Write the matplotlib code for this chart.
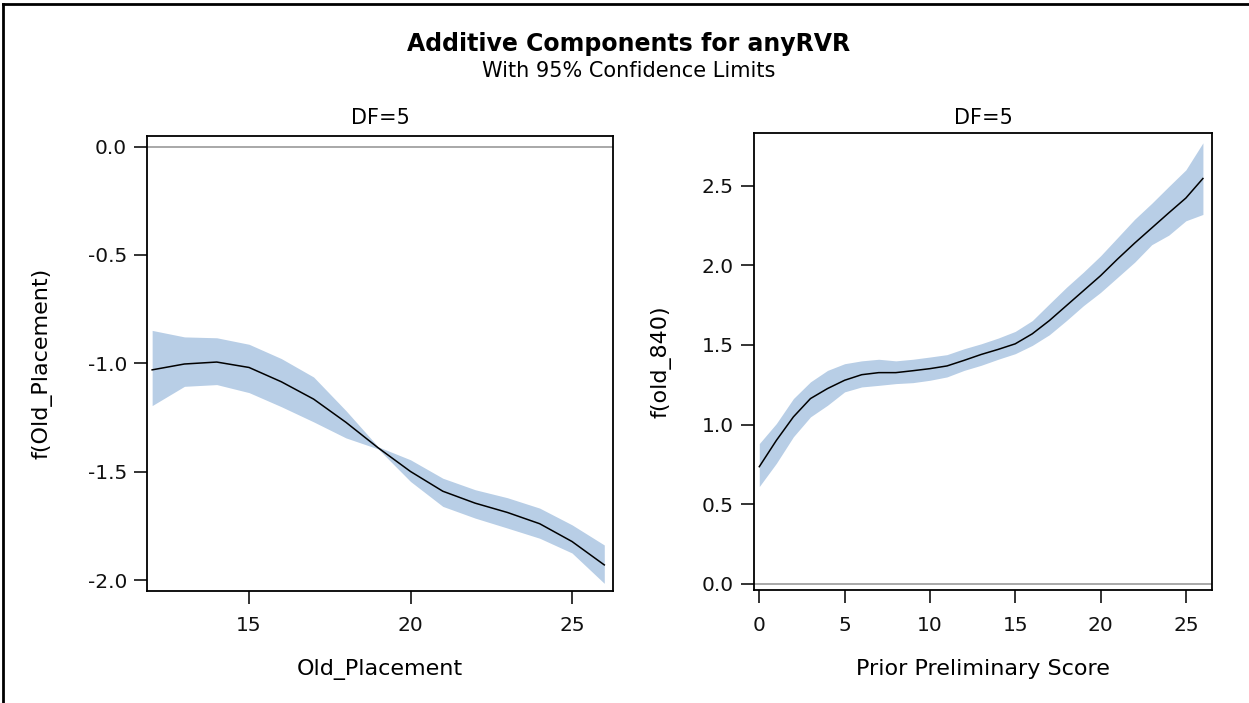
import matplotlib
matplotlib.use("Agg")
import matplotlib.pyplot as plt
from matplotlib.lines import Line2D

plt.rcParams['font.family'] = ['DejaVu Sans']

# Component 1: Old_Placement
placement_x = [12, 13, 14, 15, 16, 17, 18, 19, 20, 21, 22, 23, 24, 25, 26]
placement_fit = [-1.03, -1.003, -0.994, -1.019, -1.085, -1.165, -1.272, -1.39, -1.499,
                 -1.59, -1.645, -1.688, -1.74, -1.822, -1.93]
placement_upper = [-0.848, -0.878, -0.882, -0.912, -0.978, -1.063, -1.218, -1.385, -1.445,
                   -1.53, -1.583, -1.62, -1.668, -1.745, -1.838]
placement_lower = [-1.195, -1.106, -1.098, -1.135, -1.2, -1.27, -1.344, -1.395, -1.545,
                   -1.66, -1.714, -1.76, -1.807, -1.875, -2.015]

# Component 2: Prior Preliminary Score
score_x = list(range(0, 27))
score_fit = [0.735, 0.90, 1.048, 1.163, 1.226, 1.278, 1.313, 1.326, 1.326, 1.338, 1.351,
             1.368, 1.403, 1.44, 1.472, 1.507, 1.57, 1.653, 1.747, 1.841, 1.935, 2.04,
             2.14, 2.235, 2.33, 2.423, 2.546]
score_upper = [0.88, 1.006, 1.163, 1.268, 1.34, 1.382, 1.40, 1.41, 1.40, 1.41, 1.424,
               1.439, 1.476, 1.507, 1.543, 1.585, 1.653, 1.758, 1.862, 1.958, 2.06, 2.175,
               2.29, 2.39, 2.496, 2.60, 2.77]
score_lower = [0.61, 0.756, 0.923, 1.048, 1.121, 1.205, 1.236, 1.246, 1.257, 1.263, 1.278,
               1.299, 1.34, 1.372, 1.41, 1.445, 1.497, 1.564, 1.653, 1.747, 1.83, 1.925,
               2.02, 2.13, 2.19, 2.28, 2.32]

placement_ticks = [15, 20, 25]
placement_yticks = [0.0, -0.5, -1.0, -1.5, -2.0]
score_ticks = [0, 5, 10, 15, 20, 25]
score_yticks = [0.0, 0.5, 1.0, 1.5, 2.0, 2.5]

BAND = '#B8CEE6'
W, H = 1249, 703
fig = plt.figure(figsize=(W / 100, H / 100), dpi=100)


def px_axes(left, top, right, bottom):
    ax = fig.add_axes([left / W, 1 - bottom / H, (right - left) / W, (bottom - top) / H])
    return ax, top, bottom


def draw_panel(spec, x, fit, lo, hi, xticks, yticks, xlim, ylim, xlabel, ylabel, ylab_x):
    ax, top, bottom = spec
    height = bottom - top
    ax.fill_between(x, lo, hi, color=BAND, linewidth=0, zorder=1)
    ax.axhline(0, color='#9a9a9a', linewidth=1.2, zorder=2)
    ax.plot(x, fit, color='black', linewidth=1.1, zorder=3)
    ax.set_xlim(*xlim)
    ax.set_ylim(*ylim)
    ax.set_xticks(xticks)
    ax.set_yticks(yticks)
    ax.set_yticklabels([f"{v:.1f}" for v in yticks])
    ax.tick_params(direction='out', length=9.5, width=1.2, labelsize=14.5, colors='#111111')
    ax.tick_params(axis='x', pad=9)
    ax.tick_params(axis='y', pad=5)
    for s in ax.spines.values():
        s.set_linewidth(1.3)
    ax.set_xlabel(xlabel, fontsize=16, va='top')
    ax.xaxis.set_label_coords(0.5, -(659 - bottom) / height)
    ax.set_ylabel(ylabel, fontsize=16, va='center')
    ax.yaxis.set_label_coords(ylab_x, 0.5)
    ax.text(0.5, 1 + (top - 118) / height, 'DF=5', transform=ax.transAxes,
            ha='center', va='center', fontsize=15)
    return ax


draw_panel(px_axes(147.3, 136, 613, 590.7), placement_x, placement_fit,
           placement_lower, placement_upper, placement_ticks, placement_yticks,
           (11.85, 26.27), (-2.049, 0.049), 'Old_Placement', 'f(Old_Placement)',
           (42 - 147.3) / (613 - 147.3))

draw_panel(px_axes(754, 133.3, 1212.3, 590), score_x, score_fit,
           score_lower, score_upper, score_ticks, score_yticks,
           (-0.31, 26.55), (-0.04, 2.83), 'Prior Preliminary Score', 'f(old_840)',
           (661 - 754) / (1212.3 - 754))

fig.text(629 / W, 1 - 44 / H, 'Additive Components for anyRVR', ha='center', va='center',
         fontsize=17, fontweight='bold')
fig.text(629 / W, 1 - 71 / H, 'With 95% Confidence Limits', ha='center', va='center',
         fontsize=15)

# outer frame along the top and left edges
fig.add_artist(Line2D([3 / W, 1], [1 - 4 / H, 1 - 4 / H], transform=fig.transFigure,
                      color='black', linewidth=2))
fig.add_artist(Line2D([3 / W, 3 / W], [0, 1 - 4 / H], transform=fig.transFigure,
                      color='black', linewidth=2))

fig.savefig('out.png', dpi=100)
